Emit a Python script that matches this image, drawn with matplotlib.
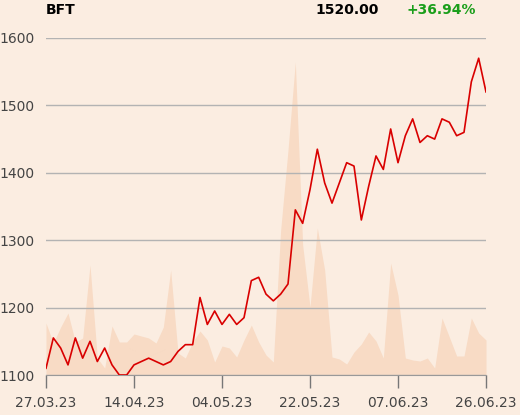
import numpy as np
import matplotlib.pyplot as plt

# Datos del gráfico
ticker = "BFT"
ultimo = "1520.00"
variacion = "+36.94%"

precio = [1110, 1155, 1140, 1115, 1155, 1125, 1150, 1120, 1140, 1115,
          1100, 1100, 1115, 1120, 1125, 1120, 1115, 1120, 1135, 1145,
          1145, 1215, 1175, 1195, 1175, 1190, 1175, 1185, 1240, 1245,
          1220, 1210, 1220, 1235, 1345, 1325, 1375, 1435, 1385, 1355,
          1385, 1415, 1410, 1330, 1380, 1425, 1405, 1465, 1415, 1455,
          1480, 1445, 1455, 1450, 1480, 1475, 1455, 1460, 1535, 1570,
          1520]

volumen = [52, 32, 48, 62, 33, 37, 110, 17, 7, 49,
           33, 33, 41, 39, 37, 32, 48, 105, 22, 17,
           33, 44, 35, 13, 29, 27, 18, 35, 50, 33,
           20, 13, 145, 225, 313, 130, 68, 147, 105, 18,
           16, 11, 23, 31, 43, 34, 17, 112, 80, 17,
           15, 14, 17, 7, 57, 38, 19, 19, 57, 42,
           35]

fechas_ticks = ["27.03.23", "14.04.23", "04.05.23", "22.05.23", "07.06.23", "26.06.23"]
pos_ticks = [0, 12, 24, 36, 48, 60]

fondo = "#fbede1"
x = np.arange(len(precio))

fig = plt.figure(figsize=(5.2, 4.15), dpi=100, facecolor=fondo)
ax = fig.add_axes([46 / 520, 1 - 375 / 415, 440 / 520, 337 / 415])
ax2 = ax.twinx()

# Volumen (área de fondo)
ax2.fill_between(x, 0, volumen, color="#f8dbc5", linewidth=0)
ax2.set_ylim(0, 337)
ax2.set_facecolor(fondo)
ax2.axis("off")

ax.set_zorder(2)
ax.patch.set_visible(False)

# Precio
ax.plot(x, precio, color="#d90000", linewidth=1.2, zorder=3)
ax.set_xlim(0, len(precio) - 1)
ax.set_ylim(1100, 1600)
ax.set_yticks([1100, 1200, 1300, 1400, 1500, 1600])
ax.grid(axis="y", color="#b3b3b3", linewidth=1)
ax.set_axisbelow(True)

for lado in ["top", "right", "left"]:
    ax.spines[lado].set_visible(False)
ax.spines["bottom"].set_color("#999999")

ax.set_xticks(pos_ticks)
ax.set_xticklabels(fechas_ticks)
ax.tick_params(axis="x", length=9, width=1, color="#777777", pad=6,
               labelsize=10, labelcolor="#444444")
ax.tick_params(axis="y", length=0, pad=8, labelsize=10, labelcolor="#444444")

# Cabecera
fig.text(46 / 520, 1 - 10 / 415, ticker, fontsize=10, fontweight="bold",
         va="center", ha="left", color="black")
fig.text(379 / 520, 1 - 10 / 415, ultimo, fontsize=10, fontweight="bold",
         va="center", ha="right", color="black")
fig.text(476 / 520, 1 - 10 / 415, variacion, fontsize=10, fontweight="bold",
         va="center", ha="right", color="#1a9e1a")

fig.savefig("out.png", dpi=100, facecolor=fondo)
